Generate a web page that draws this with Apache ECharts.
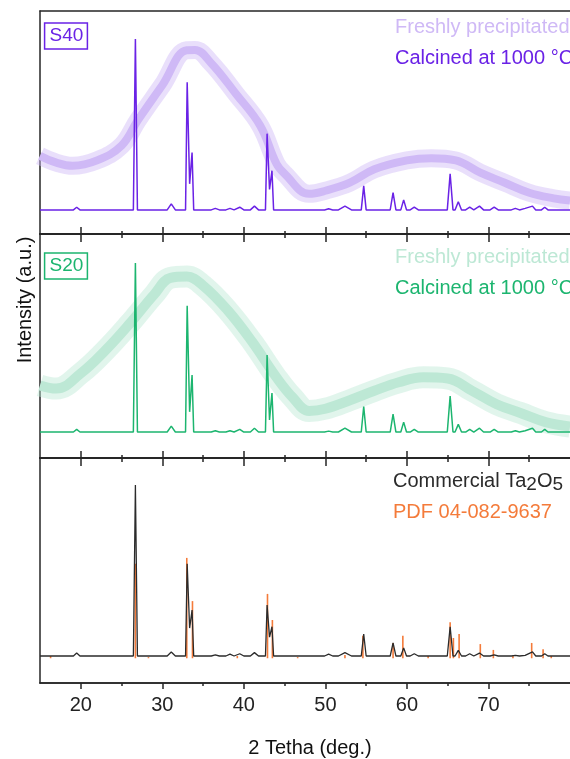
<!DOCTYPE html>
<html>
<head>
<meta charset="utf-8">
<script src="https://cdn.jsdelivr.net/npm/echarts@6/dist/echarts.min.js"></script>
<style>
  html, body { margin: 0; padding: 0; background: #fff; }
  #chart { width: 570px; height: 759px; }
</style>
</head>
<body>
<div id="chart"></div>
<script>
// ticks on the 2 theta axis
const majorTicks = [20, 30, 40, 50, 60, 70];
const minorTicks = [25, 35, 45, 55, 65, 75];

// reflections of crystalline Ta2O5 (2 theta, deg) + half width at the base,
// a few entries are the valleys inside doublets
const peakPos   = [19.5, 26.7, 31.1, 33.05, 33.35, 33.65, 36.5, 38.3, 39.5, 41.3, 42.85, 43.15, 43.45, 50.4, 52.4, 54.7, 58.3, 59.6, 60.9, 65.3, 66.3, 67.7, 68.9, 70.7, 73.3, 74.5, 75.4, 76.9];
const peakWidth = [0.4, 0.25, 0.5, 0.2, 0.3, 0.2, 0.5, 0.5, 0.5, 0.5, 0.2, 0.3, 0.2, 0.5, 0.8, 0.3, 0.35, 0.35, 0.5, 0.35, 0.4, 0.5, 0.5, 0.5, 0.5, 0.5, 0.4, 0.4];

// S40 panel
const s40Base = 10.8;
const s40Calcined = [12, 87.4, 13.5, 68, 22.5, 36.5, 11.5, 11.5, 12, 12.5, 45, 20, 28.4, 11.3, 12.5, 21.6, 18.5, 15.3, 12, 27, 14.5, 12, 12.5, 12, 11.5, 11.5, 12.5, 12];
const s40FreshX = [15, 17, 19, 22, 25, 27, 30, 33, 34, 36, 39, 42, 44, 45, 48, 50, 53, 56, 60, 63, 66, 69, 72, 75, 78, 80];
const s40FreshY = [35, 32, 30.6, 33, 39.6, 51, 66.7, 82.4, 82.5, 76.6, 63, 48.6, 31.5, 27, 18, 19.4, 23, 29, 33, 34, 33, 27.5, 23, 18.5, 16, 15];

// S20 panel
const s20Base = 11.6;
const s20Calcined = [12.8, 87, 14.2, 68, 20.6, 37, 12.2, 12.2, 12.8, 13.3, 46, 17, 29, 12, 13.3, 23, 19.6, 16, 12.8, 27.6, 15, 12.8, 13.3, 12.8, 12.2, 12.2, 13.3, 12.8];
const s20FreshX = [15, 17, 20, 23, 26, 29, 31, 33, 35, 38, 41, 44, 46, 48, 50, 53, 56, 59, 62, 65, 68, 71, 74, 77, 80];
const s20FreshY = [32.4, 31, 37.8, 48, 60, 73, 80.4, 81, 77, 66, 52, 36, 27, 21, 22, 25.8, 30, 33.8, 36, 35.5, 30, 24, 20, 16, 14];

// commercial Ta2O5 panel
const comBase = 12;
const commercial = [13.3, 88, 13.8, 53, 24.4, 32.4, 12.5, 12.8, 13, 13.5, 34.7, 20.4, 25, 12.8, 13.5, 21.8, 17.8, 15.6, 13, 25, 14.5, 13, 13.3, 12.5, 12.3, 12.3, 13.8, 13];

// PDF 04-082-9637 reference lines
const pdfBase = 11;
const pdfPos    = [16.3, 26.7, 28.3, 33.0, 33.7, 39.2, 42.9, 43.5, 46.6, 52.4, 54.6, 58.3, 59.5, 62.6, 65.3, 65.7, 66.4, 69.0, 70.6, 73.0, 75.3, 76.7, 77.7];
const pdfHeight = [12, 53, 11.5, 55.6, 36.4, 12, 39.6, 28, 11.5, 12.5, 21, 17.8, 21, 12, 27, 20, 21.8, 17.3, 14.7, 12, 17.8, 15, 12];

const PURPLE = '#6a22e6', PURPLE_L = '#cfb9f6';
const GREEN = '#1cb56f', GREEN_L = '#bde8d5';
const BLACK = '#2b2b2b', ORANGE = '#f47b3a';
const AXIS = '#262626';
const FONT = '"Liberation Sans", Arial, sans-serif';

// stick profile from the peak list
function profile(heights, base) {
  const pts = [[15, base]];
  for (let i = 0; i < peakPos.length; i++) {
    const p = peakPos[i], w = peakWidth[i];
    const prevEnd = i > 0 ? peakPos[i - 1] + peakWidth[i - 1] : -1;
    const nextStart = i < peakPos.length - 1 ? peakPos[i + 1] - peakWidth[i + 1] : 999;
    if (prevEnd < p - w) pts.push([p - w, base]);
    pts.push([p, heights[i]]);
    if (nextStart > p + w) pts.push([p + w, base]);
  }
  pts.push([80, base]);
  return pts;
}
const zip = (xs, ys) => xs.map((x, i) => [x, ys[i]]);

const grids = [
  { left: 40, width: 540, top: 11, height: 223 },
  { left: 40, width: 540, top: 234, height: 224 },
  { left: 40, width: 540, top: 458, height: 225 }
];

function xAx(gridIndex, position, ticks, len, labels) {
  return {
    type: 'value', gridIndex, position, min: 15, max: 80,
    axisLine: { show: true, onZero: false, lineStyle: { color: AXIS, width: 1.5 } },
    axisTick: { show: ticks.length > 0, customValues: ticks, length: len, lineStyle: { color: AXIS, width: 1.5 } },
    axisLabel: labels ? { show: true, customValues: majorTicks, fontSize: 20, fontFamily: FONT, color: '#222', margin: 12 } : { show: false },
    splitLine: { show: false }
  };
}
const xAxes = [
  xAx(0, 'top', [], 0),
  xAx(0, 'bottom', majorTicks, 8), xAx(0, 'bottom', minorTicks, 4),
  xAx(1, 'top', majorTicks, 7), xAx(1, 'top', minorTicks, 3),
  xAx(1, 'bottom', majorTicks, 8), xAx(1, 'bottom', minorTicks, 4),
  xAx(2, 'top', majorTicks, 7), xAx(2, 'top', minorTicks, 3),
  xAx(2, 'bottom', majorTicks, 6, true), xAx(2, 'bottom', minorTicks, 3)
];
const yAxes = [0, 1, 2].map(g => ({
  type: 'value', gridIndex: g, min: 0, max: 100,
  axisLine: { show: true, onZero: false, lineStyle: { color: AXIS, width: 1.5 } },
  axisTick: { show: false }, axisLabel: { show: false }, splitLine: { show: false }
}));

function line(xi, yi, data, color, width, opacity, smooth) {
  return {
    type: 'line', xAxisIndex: xi, yAxisIndex: yi, data, showSymbol: false, smooth: smooth || false,
    lineStyle: { color, width, opacity: opacity == null ? 1 : opacity }, silent: true
  };
}

const series = [
  line(1, 0, zip(s40FreshX, s40FreshY), PURPLE_L, 18, 0.45, 0.4),
  line(1, 0, zip(s40FreshX, s40FreshY), PURPLE_L, 8, 1, 0.4),
  line(1, 0, profile(s40Calcined, s40Base), PURPLE, 1.5),
  line(5, 1, zip(s20FreshX, s20FreshY), GREEN_L, 22, 0.45, 0.4),
  line(5, 1, zip(s20FreshX, s20FreshY), GREEN_L, 10, 1, 0.4),
  line(5, 1, profile(s20Calcined, s20Base), GREEN, 1.5),
  line(9, 2, profile(commercial, comBase), BLACK, 1.3),
  {
    type: 'custom', xAxisIndex: 9, yAxisIndex: 2, silent: true,
    data: zip(pdfPos, pdfHeight),
    renderItem: function (params, api) {
      const a = api.coord([api.value(0), pdfBase]);
      const b = api.coord([api.value(0), api.value(1)]);
      return { type: 'line', shape: { x1: a[0], y1: a[1], x2: b[0], y2: b[1] }, style: { stroke: ORANGE, lineWidth: 1.6 } };
    }
  }
];

function txt(x, y, text, color, extra) {
  return {
    type: 'text', x, y, silent: true,
    style: Object.assign({ text, fill: color, fontSize: 20, fontFamily: FONT, align: 'left', verticalAlign: 'middle' }, extra || {})
  };
}
const boxed = c => ({ align: 'center', fontSize: 19, borderColor: c, borderWidth: 1.5, padding: [4, 4, 3, 5] });

const graphic = [
  txt(66, 36, 'S40', PURPLE, boxed(PURPLE)),
  txt(395, 27, 'Freshly precipitated', PURPLE_L),
  txt(395, 58, 'Calcined at 1000 °C', PURPLE),
  txt(66, 266, 'S20', GREEN, boxed(GREEN)),
  txt(395, 257, 'Freshly precipitated', GREEN_L),
  txt(395, 288, 'Calcined at 1000 °C', GREEN),
  txt(393, 481, 'Commercial Ta{s|2}O{s|5}', BLACK, {
    lineHeight: 26, rich: { s: { fontSize: 19, fontFamily: FONT, fill: BLACK, verticalAlign: 'bottom', lineHeight: 26 } }
  }),
  txt(393, 512, 'PDF 04-082-9637', ORANGE),
  { type: 'text', x: 25, y: 300, rotation: Math.PI / 2, silent: true,
    style: { text: 'Intensity (a.u.)', fill: '#111', fontSize: 20, fontFamily: FONT, align: 'center', verticalAlign: 'middle' } },
  txt(310, 748, '2 Tetha (deg.)', '#111', { align: 'center' })
];

const chart = echarts.init(document.getElementById('chart'));
chart.setOption({
  animation: false,
  backgroundColor: '#fff',
  grid: grids,
  xAxis: xAxes,
  yAxis: yAxes,
  series,
  graphic
});
</script>
</body>
</html>
